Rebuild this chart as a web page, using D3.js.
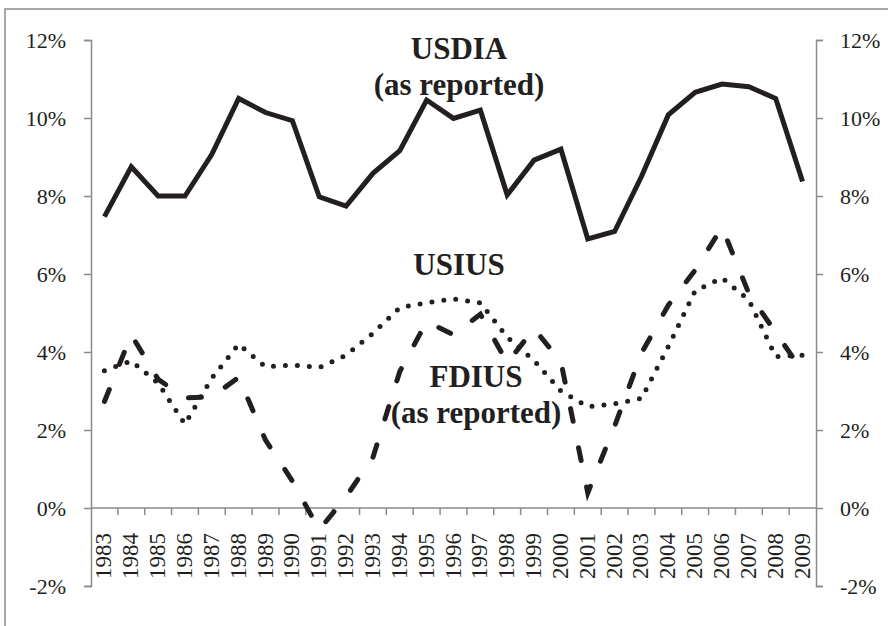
<!DOCTYPE html>
<html>
<head>
<meta charset="utf-8">
<script src="https://cdnjs.cloudflare.com/ajax/libs/d3/7.8.5/d3.min.js"></script>
<style>
  html, body { margin: 0; padding: 0; background: #fff; }
  svg { display: block; }
</style>
</head>
<body>
<div id="chart"></div>
<script>
// categories and series (percent)
const years = ['1983', '1984', '1985', '1986', '1987', '1988', '1989', '1990', '1991', '1992',
  '1993', '1994', '1995', '1996', '1997', '1998', '1999', '2000', '2001', '2002',
  '2003', '2004', '2005', '2006', '2007', '2008', '2009'];

const usdia = [7.47, 8.75, 8.0, 8.0, 9.07, 10.5, 10.14, 9.93, 7.98, 7.74,
  8.58, 9.16, 10.46, 9.99, 10.2, 8.03, 8.92, 9.2, 6.9, 7.09,
  8.5, 10.08, 10.66, 10.87, 10.8, 10.5, 8.37];

const usius = [3.52, 3.77, 3.2, 2.15, 3.33, 4.2, 3.62, 3.67, 3.6, 3.92,
  4.48, 5.14, 5.26, 5.36, 5.26, 4.38, 3.78, 3.0, 2.6, 2.67,
  2.81, 4.14, 5.57, 5.9, 5.33, 3.88, 3.92];

const fdius = [2.73, 4.44, 3.3, 2.82, 2.85, 3.35, 1.74, 0.69, -0.56, 0.29,
  1.3, 3.5, 4.78, 4.44, 4.97, 3.72, 4.6, 3.75, 0.39, 2.1,
  3.97, 5.2, 6.1, 7.2, 5.5, 4.5, 3.5];

const yTicks = [-2, 0, 2, 4, 6, 8, 10, 12];

const labels = [
  {lines: ['USDIA', '(as reported)'], x: 459, y: 59},
  {lines: ['USIUS'], x: 459, y: 275},
  {lines: ['FDIUS', '(as reported)'], x: 476, y: 387}
];

const W = 888, H = 626;
const plot = {left: 91, right: 816, top: 40, bottom: 586};
const ink = '#231f20', axisGray = '#8a8a8a';

const svg = d3.select('#chart').append('svg')
  .attr('width', W)
  .attr('height', H);

// outer frame (runs off the right and bottom edge)
svg.append('rect')
  .attr('x', 5).attr('y', 9)
  .attr('width', W + 20).attr('height', H + 20)
  .attr('fill', 'none')
  .attr('stroke', axisGray)
  .attr('stroke-width', 1.5);

const x = d3.scaleBand().domain(years).range([plot.left, plot.right]);
const y = d3.scaleLinear().domain([-2, 12]).range([plot.bottom, plot.top]);

const font = '"Liberation Serif", "Times New Roman", serif';

// left axis
const yLeft = svg.append('g')
  .attr('transform', `translate(${plot.left},0)`)
  .call(d3.axisLeft(y).tickValues(yTicks).tickSize(7).tickPadding(18).tickFormat(d => d + '%'));

// right axis
const yRight = svg.append('g')
  .attr('transform', `translate(${plot.right},0)`)
  .call(d3.axisRight(y).tickValues(yTicks).tickSize(7).tickPadding(17).tickFormat(d => d + '%'));

[yLeft, yRight].forEach(g => {
  g.select('.domain').attr('stroke', axisGray).attr('stroke-width', 1.5);
  g.selectAll('.tick line').attr('stroke', axisGray).attr('stroke-width', 1.5);
  g.selectAll('.tick text')
    .attr('fill', ink)
    .style('font-family', font)
    .style('font-size', '22px');
});

// category axis on the 0% line
const xAxis = svg.append('g')
  .attr('transform', `translate(0,${y(0)})`);

xAxis.append('line')
  .attr('x1', plot.left).attr('x2', plot.right)
  .attr('stroke', axisGray).attr('stroke-width', 1.5);

xAxis.selectAll('line.sep')
  .data(years.slice(1))
  .enter().append('line')
  .attr('class', 'sep')
  .attr('x1', d => x(d)).attr('x2', d => x(d))
  .attr('y1', 0).attr('y2', 7)
  .attr('stroke', axisGray).attr('stroke-width', 1.5);

xAxis.selectAll('text')
  .data(years)
  .enter().append('text')
  .attr('transform', d => `translate(${x(d) + x.bandwidth() / 2 + 7},25) rotate(-90)`)
  .attr('text-anchor', 'end')
  .attr('fill', ink)
  .style('font-family', font)
  .style('font-size', '23px')
  .text(d => d);

// lines
const line = d3.line()
  .x((d, i) => x(years[i]) + x.bandwidth() / 2)
  .y(d => y(d));

svg.append('path')
  .datum(usdia)
  .attr('d', line)
  .attr('fill', 'none')
  .attr('stroke', ink)
  .attr('stroke-width', 5)
  .attr('stroke-linejoin', 'miter');

svg.append('path')
  .datum(usius)
  .attr('d', line)
  .attr('fill', 'none')
  .attr('stroke', ink)
  .attr('stroke-width', 5)
  .attr('stroke-linecap', 'round')
  .attr('stroke-dasharray', '0,12');

svg.append('path')
  .datum(fdius)
  .attr('d', line)
  .attr('fill', 'none')
  .attr('stroke', ink)
  .attr('stroke-width', 5)
  .attr('stroke-linecap', 'round')
  .attr('stroke-dasharray', '13,27');

// series labels
labels.forEach(l => {
  const t = svg.append('text')
    .attr('x', l.x).attr('y', l.y)
    .attr('text-anchor', 'middle')
    .attr('fill', ink)
    .style('font-family', font)
    .style('font-weight', 'bold')
    .style('font-size', '31px');
  l.lines.forEach((s, i) => {
    t.append('tspan')
      .attr('x', l.x)
      .attr('dy', i === 0 ? 0 : 36)
      .text(s);
  });
});
</script>
</body>
</html>
